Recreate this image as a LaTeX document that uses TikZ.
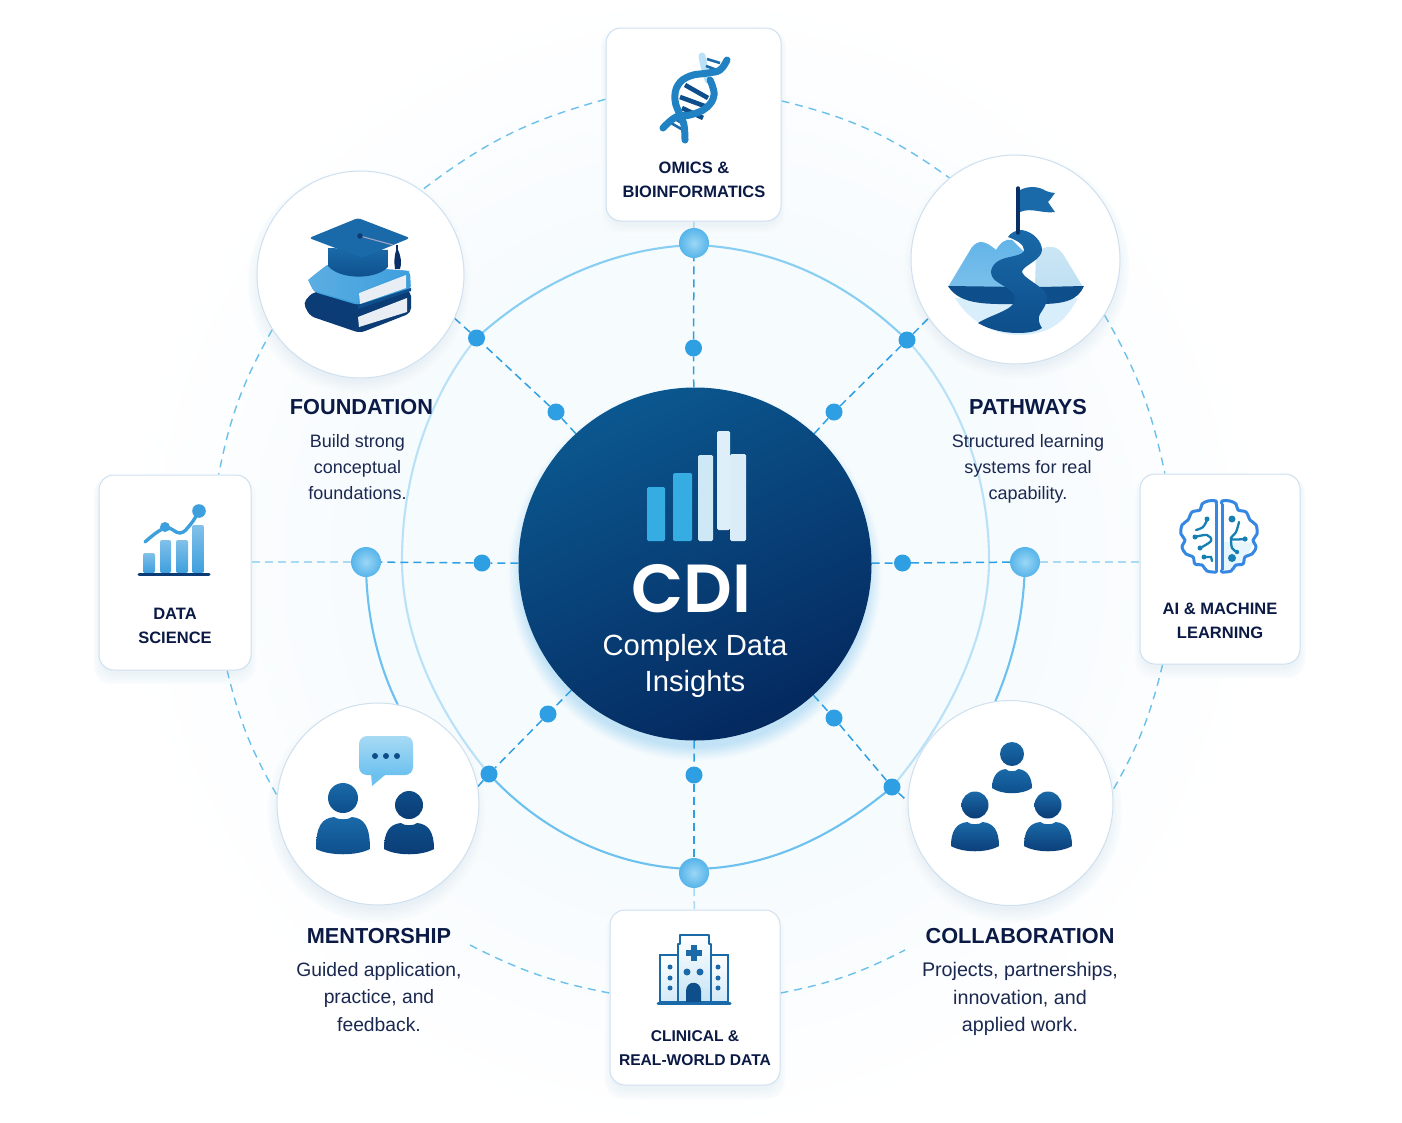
\documentclass[tikz,border=0pt]{standalone}
\usepackage{fontspec}
\setmainfont{Liberation Sans}
\newfontfamily\cdifont{Poppins SemiBold}
\usetikzlibrary{calc}
\pgfdeclarelayer{back}
\pgfdeclarelayer{conn}
\pgfsetlayers{back,conn,main}
\definecolor{ink}{HTML}{0B1A45}
\definecolor{bodyink}{HTML}{1B2850}
\definecolor{spokeC}{HTML}{2F9FE3}
\definecolor{outerC}{HTML}{6CC0EC}
\definecolor{paleC}{HTML}{A8DAF4}
\definecolor{ringC}{HTML}{6CC1EF}
\definecolor{ringT}{HTML}{88CEF3}
\definecolor{ringL}{HTML}{B9E1F7}
\definecolor{edgeC}{HTML}{CFE0EF}
\definecolor{dotC}{HTML}{2E9FE2}
\definecolor{blueA}{HTML}{1A69A8}
\definecolor{blueB}{HTML}{0D4E8B}
\definecolor{navyA}{HTML}{0E4D88}
\definecolor{navyB}{HTML}{0B3C76}
\definecolor{navy}{HTML}{0A2F66}
\definecolor{skyA}{HTML}{62B4E8}
\definecolor{skyB}{HTML}{3E9FDD}
\definecolor{skyL}{HTML}{BFE0F3}
\definecolor{tint}{HTML}{DCEFFB}
\definecolor{hubA}{HTML}{0B578F}
\definecolor{hubB}{HTML}{04295F}
\definecolor{shadeC}{HTML}{9DB8D0}
\definecolor{glowC}{HTML}{5FB4E8}
\definecolor{pageC}{HTML}{E8EEF4}
\definecolor{ballA}{HTML}{9BD7F5}
\definecolor{ballB}{HTML}{56B4EA}
\definecolor{dnaC}{HTML}{2082C2}
\definecolor{bgC}{HTML}{FAFDFE}
\tikzset{
  x=1pt,y=-1pt,
  card/.style={draw=edgeC,line width=1,fill=white,rectangle,rounded corners=15pt,inner sep=0pt},
  disc/.style={draw=edgeC,line width=1,fill=white,circle,inner sep=0pt},
  hub/.style={circle,inner sep=0pt,minimum size=353pt,top color=hubA,bottom color=hubB,shading angle=25},
  bigdot/.style={circle,inner sep=0pt,minimum size=30pt,inner color=ballA,outer color=ballB},
  smalldot/.style={circle,inner sep=0pt,minimum size=17pt,fill=dotC},
  spoke/.style={draw=spokeC,line width=1.5,dash pattern=on 8pt off 5pt},
  palespoke/.style={draw=paleC,line width=1.5,dash pattern=on 8pt off 5pt},
  orbit/.style={draw=outerC,line width=1.4,dash pattern=on 8pt off 6pt},
  ringS/.style={draw=ringC,line width=2.1},
  ringP/.style={draw=ringL,line width=2.1},
  head/.style={text=ink,font=\bfseries\fontsize{21.7}{26}\selectfont,inner sep=0pt},
  desc/.style={text=bodyink,align=center,inner sep=0pt},
  cardlabel/.style={text=ink,align=center,inner sep=0pt,font=\bfseries\fontsize{16.5}{24}\selectfont},
}
\newcommand{\softshadow}[6]{% x y r offset colour strength
  \begin{pgfonlayer}{back}
  \foreach \k in {12,...,1}{\pgfmathsetmacro{\pp}{(13-\k)*#6}\fill[#5!\pp!bgC] (#1,#2+#4) circle[radius=#3+\k*1.3-6];}
  \end{pgfonlayer}}
\newcommand{\boxshadow}[4]{% x0 y0 x1 y1
  \begin{pgfonlayer}{back}
  \foreach \k in {10,...,1}{\pgfmathsetmacro{\pp}{(11-\k)*1.5}\fill[shadeC!\pp!bgC,rounded corners=18pt] (#1-\k*.7+2,#2+8-\k*.7) rectangle (#3+\k*.7-2,#4+3+\k*1.1);}
  \end{pgfonlayer}}
\newcommand{\pers}[8]{% cx headcy r top halfw bottom colours
  \path[top color=#7,bottom color=#8] (#1,#2) circle[radius=#3];
  \path[top color=#7,bottom color=#8] (#1-#5,#6-6)
    .. controls (#1-#5,#4+9) and (#1-#5*.78,#4+1) .. (#1-#5*.32,#4)
    .. controls (#1-#5*.2,#4+3) and (#1+#5*.2,#4+3) .. (#1+#5*.32,#4)
    .. controls (#1+#5*.78,#4+1) and (#1+#5,#4+9) .. (#1+#5,#6-6)
    .. controls (#1+#5*.5,#6+1) and (#1-#5*.5,#6+1) .. cycle;}
\begin{document}
\begin{tikzpicture}
\useasboundingbox (0,0) rectangle (1402,1122);
\begin{pgfonlayer}{back}
\fill[white] (0,0) rectangle (1402,1122);
\foreach \k in {16,...,1}{\pgfmathsetmacro{\pp}{(17-\k)*1.7}\fill[tint!\pp!white] (695,563) circle[radius=300+\k*16];}
\end{pgfonlayer}

% ---- main nodes
\node[hub] (cdi) at (695,564) {};
\node[card,minimum width=175pt,minimum height=193pt] (omics) at (693.5,124.5) {};
\node[card,minimum width=152pt,minimum height=195pt] (data) at (175,572.5) {};
\node[card,minimum width=160pt,minimum height=190pt] (ai) at (1220,569) {};
\node[card,minimum width=170pt,minimum height=175pt] (clinical) at (695,997.5) {};
\node[disc,minimum size=207pt] (foundation) at (360.5,274.5) {};
\node[disc,minimum size=209pt] (pathways) at (1015.5,259.5) {};
\node[disc,minimum size=202pt] (mentorship) at (378,804) {};
\node[disc,minimum size=205pt] (collaboration) at (1010.5,803) {};

\softshadow{695}{564}{178}{10}{glowC}{3}
\softshadow{360.5}{274.5}{103}{8}{shadeC}{1.6}
\softshadow{1015.5}{259.5}{104}{8}{shadeC}{1.6}
\softshadow{378}{804}{101}{8}{shadeC}{1.6}
\softshadow{1010.5}{803}{102}{8}{shadeC}{1.6}
\boxshadow{606}{28}{781}{221}
\boxshadow{99}{475}{251}{670}
\boxshadow{1140}{474}{1300}{664}
\boxshadow{610}{910}{780}{1085}

% ---- ring dots
\node[bigdot] (bN) at (694,243) {};
\node[bigdot] (bS) at (694,873) {};
\node[bigdot] (bW) at (366,562) {};
\node[bigdot] (bE) at (1025,562) {};
\node[smalldot] (dN) at (693.5,348) {};
\node[smalldot] (dS) at (694,775) {};
\node[smalldot] (dW) at (482,563) {};
\node[smalldot] (dE) at (902.5,563) {};
\node[smalldot] (dNWa) at (556,412) {};
\node[smalldot] (dNWb) at (476.5,338) {};
\node[smalldot] (dNEa) at (834,412) {};
\node[smalldot] (dNEb) at (907,340) {};
\node[smalldot] (dSWa) at (548,714) {};
\node[smalldot] (dSWb) at (489,774) {};
\node[smalldot] (dSEa) at (834,718) {};
\node[smalldot] (dSEb) at (892,787) {};
\coordinate (mentEnd) at (470,945);
\coordinate (collabEnd) at (905,950);

\begin{pgfonlayer}{conn}
% outer dashed orbit
\draw[orbit] (omics.164) to[bend right=11] (foundation.54);
\draw[orbit] (omics.15.5) to[bend left=11] (pathways.129);
\draw[orbit] (foundation.212.5) to[bend right=9] (data.66.6);
\draw[orbit] (pathways.-32.7) to[bend left=9] (ai.120);
\draw[orbit] (data.-62) to[bend right=8] (mentorship.175);
\draw[orbit] (ai.239) to[bend left=8] (collaboration.7);
\draw[orbit] (mentEnd) to[bend right=8] (clinical.177);
\draw[orbit] (clinical.3) to[bend right=8] (collabEnd);
% rings
\draw[ringP] (dNWb.center) .. controls (430,395) and (402,475) .. (402,560) .. controls (402,640) and (440,715) .. (dSWb.center);
\draw[ringP] (dNEb.center) .. controls (958,395) and (989,475) .. (989,560) .. controls (989,640) and (945,725) .. (dSEb.center);
\draw[ringS,draw=ringT] (dNWb.center) .. controls (535,285) and (610,248) .. (694,245);
\draw[ringS,draw=ringT] (694,245) .. controls (780,248) and (850,285) .. (dNEb.center);
\draw[ringS] (dSWb.center) .. controls (545,835) and (620,868) .. (694,869);
\draw[ringS] (694,869) .. controls (770,868) and (835,835) .. (dSEb.center);
\draw[ringS] (bW.center) .. controls (366,615) and (378,665) .. (398,705);
\draw[ringS] (bE.center) .. controls (1024,615) and (1013,660) .. (995,702);
% spokes
\draw[spoke] (cdi) -- (dN);
\draw[spoke] (dN) -- (bN);
\draw[draw=paleC,line width=1.5] (bN) -- (omics);
\draw[spoke] (cdi) -- (dS);
\draw[spoke] (dS) -- (bS);
\draw[palespoke] (bS) -- (clinical);
\draw[spoke] (cdi) -- (dW);
\draw[spoke] (dW) -- (bW);
\draw[palespoke] (bW) -- (data.east |- bW);
\draw[spoke] (cdi) -- (dE);
\draw[spoke] (dE) -- (bE);
\draw[palespoke] (bE) -- (ai.west |- bE);
\draw[spoke] (cdi) -- (dNWa);
\draw[spoke] (dNWa) -- (dNWb);
\draw[spoke] (dNWb) -- (foundation.-25);
\draw[spoke] (cdi) -- (dNEa);
\draw[spoke] (dNEa) -- (dNEb);
\draw[spoke] (dNEb) -- (pathways.214.4);
\draw[spoke] (cdi) -- (dSWa);
\draw[spoke] (dSWa) -- (dSWb);
\draw[spoke] (dSWb) -- (mentorship.10.8);
\draw[spoke] (cdi) -- (dSEa);
\draw[spoke] (dSEa) -- (dSEb);
\draw[spoke] (dSEb) -- (collaboration.179);
\end{pgfonlayer}

% ---- texts
\node[text=white,inner sep=0pt,font=\cdifont\fontsize{68}{68}\selectfont] (cdiT) at (691,589) {CDI};
\node[text=white,align=center,inner sep=0pt,font=\fontsize{29.2}{36}\selectfont] (cdiS) at (695,666) {Complex Data\\Insights};
\node[head] (foundT) at (361.5,407) {FOUNDATION};
\node[desc,font=\fontsize{18}{26}\selectfont] (foundD) at (357.5,467) {Build strong\\conceptual\\foundations.};
\node[head] (pathT) at (1028,407) {PATHWAYS};
\node[desc,font=\fontsize{18}{26}\selectfont] (pathD) at (1028,469) {Structured learning\\systems for real\\capability.};
\node[head] (mentT) at (379,936) {MENTORSHIP};
\node[desc,font=\fontsize{19.3}{27.7}\selectfont] (mentD) at (379,997) {Guided application,\\practice, and\\feedback.};
\node[head] (collabT) at (1020,936) {COLLABORATION};
\node[desc,font=\fontsize{19.7}{27.7}\selectfont] (collabD) at (1020,999) {Projects, partnerships,\\innovation, and\\applied work.};
\node[cardlabel] (omicsT) at (694,180) {OMICS \&\\BIOINFORMATICS};
\node[cardlabel] (dataT) at (175,626) {DATA\\SCIENCE};
\node[cardlabel] (aiT) at (1220,621) {AI \& MACHINE\\LEARNING};
\node[cardlabel,font=\bfseries\fontsize{15.6}{24}\selectfont] (clinT) at (695,1048) {CLINICAL \&\\REAL-WORLD DATA};

% ---- hub bars
\fill[rounded corners=1.5pt,fill=skyB!85!cyan] (647,487) rectangle (665,541);
\fill[rounded corners=1.5pt,fill=skyB!85!cyan] (673,473) rectangle (692,541);
\fill[rounded corners=1.5pt,fill=skyL!75!white] (698,455) rectangle (713,541);
\fill[rounded corners=1.5pt,fill=skyL!60!white] (730,454) rectangle (746,541);
\fill[rounded corners=1.5pt,fill=skyL!50!white] (717,431) rectangle (730,530);

% ---- DNA icon
\draw[ringL,line width=7,line cap=round] plot[smooth,tension=.7] coordinates {(708,80) (704,66) (702,56)};
\foreach \a/\b/\c/\d in {707/59/720/63,706/66/717/70,671/123/683/130,675/119/685/125}
  \draw[blueA,line width=2.6] (\a,\b) -- (\c,\d);
\foreach \a/\b/\c/\d in {685/85/708/98,680/97/710/108,682/108/703/118}
  \draw[blueB,line width=4.6] (\a,\b) -- (\c,\d);
\draw[dnaC,line width=7,line cap=round] plot[smooth,tension=.7] coordinates {(663,128) (676,117) (690,115) (706,108) (714,95) (710,80)};
\draw[dnaC,line width=7,line cap=round] plot[smooth,tension=.7] coordinates {(685,140) (684,125) (680,115) (675,100) (678,85) (690,76) (708,73) (720,70) (727,60)};

% ---- books and cap
\fill[navyB,rounded corners=5pt] (303,303) -- (313,292) -- (411,291) -- (411,313) -- (360,333) -- (310,316) -- cycle;
\fill[pageC] (358,317) -- (407,298) -- (407,312) -- (359,327) -- cycle;
\fill[skyB,rounded corners=4pt] (308,280) -- (327,265) -- (410,271) -- (411,290) -- (358,305) -- (314,292) -- cycle;
\fill[blueB] (358,305) -- (411,288) -- (411,291) -- (358,309) -- cycle;
\fill[pageC] (359,293) -- (406,275) -- (406,288) -- (360,304) -- cycle;
\path[left color=skyB!85!white,right color=skyB] (308,280) -- (327,265) -- (410,271) -- (359,293) -- (358,303) -- (314,291) -- cycle;
\path[top color=blueA,bottom color=blueB] (328,248) -- (328,266) .. controls (340,280) and (376,280) .. (388,267) -- (388,250) -- cycle;
\fill[blueA,rounded corners=3pt] (358,218) -- (410,238) -- (362,258) -- (309,238) -- cycle;
\draw[gray!80!blue!60,line width=1.1] (360,236) -- (393,245);
\fill[navyB] (360,236) circle[radius=2.8];
\draw[navy,line width=1.4] (397,245) -- (397,252);
\fill[navy] (397,248) .. controls (401,255) and (402,264) .. (400,269) -- (395,269) .. controls (394,262) and (394,255) .. (397,248);

% ---- pathways icon
\fill[ringL!55!white] (955,298) .. controls (975,330) and (1005,335) .. (1018,335) .. controls (1050,335) and (1065,322) .. (1078,298) -- cycle;
\path[top color=skyL!80!white,bottom color=skyL] (1035,287) -- (1036,253) .. controls (1045,245) and (1056,244) .. (1063,254) -- (1083,287) -- cycle;
\path[top color=skyA,bottom color=skyA!85!white] (948,287) -- (972,247) .. controls (978,240) and (985,240) .. (996,250) .. controls (1000,243) and (1006,238) .. (1012,240) -- (1027,255) -- (1015,287) -- cycle;
\fill[blueB] (948,286) -- (1020,287) -- (1020,304) .. controls (990,304) and (960,306) .. (948,286) -- cycle;
\fill[blueB] (1040,287) -- (1084,286) .. controls (1078,300) and (1065,304) .. (1040,304) -- cycle;
\path[top color=blueA,bottom color=blueB] (1008,237) .. controls (1016,240) and (1024,244) .. (1024,250) .. controls (1024,256) and (1008,256) .. (1000,260) .. controls (990,265) and (988,275) .. (996,281) .. controls (1006,288) and (1016,292) .. (1015,300) .. controls (1014,310) and (990,315) .. (978,323) .. controls (990,330) and (1005,333) .. (1018,333) .. controls (1026,333) and (1036,332) .. (1042,328) .. controls (1038,322) and (1038,318) .. (1040,314) .. controls (1046,305) and (1050,298) .. (1044,291) .. controls (1038,284) and (1024,278) .. (1022,272) .. controls (1022,266) and (1042,260) .. (1042,250) .. controls (1042,242) and (1034,232) .. (1022,230) .. controls (1016,230) and (1010,233) .. cycle;
\draw[navy,line width=3.4,line cap=round] (1018,188) -- (1018,233);
\path[fill=blueA] (1020,190) .. controls (1030,185) and (1040,187) .. (1046,191) .. controls (1049,193) and (1052,192) .. (1055,193) .. controls (1052,197) and (1050,200) .. (1048,202) .. controls (1050,205) and (1052,208) .. (1055,212) .. controls (1042,214) and (1032,207) .. (1020,212) -- cycle;

% ---- data science icon
\foreach \a/\b/\c in {143/155/553,160/171/540,176/188/540,192/204/525}
  \path[rounded corners=2pt,top color=skyB!65!white,bottom color=skyB] (\a,\c) rectangle (\b,573);
\draw[navyB,line width=3,line cap=round] (139,574) -- (209,574);
\draw[skyB,line width=3.4,line cap=round] plot[smooth,tension=.7] coordinates {(145,542) (165,528) (180,533) (190,525) (198,513)};
\fill[skyB] (199,511) circle[radius=6.8];
\fill[skyB] (165,527) circle[radius=5];

% ---- brain icon
\begin{scope}[shift={(1219,537)}]
\fill[ringL!35!white] (3,5) -- (35,5) -- (24,27) -- (3,34) -- cycle;
\foreach \s in {1,-1}{
  \begin{scope}[xscale=\s]
  \draw[skyB!85!blue,line width=3,line join=round] plot[smooth,tension=.55] coordinates {(-3,-33) (-3,-36) (-11,-36) (-17,-33) (-19,-27) (-27,-25) (-31,-17) (-37,-12) (-38,-3) (-34,3) (-37,10) (-33,17) (-26,20) (-24,27) (-17,28) (-12,34) (-3,35) (-3,33)};
  \draw[skyB!85!blue,line width=3] (-3,-33) -- (-3,33);
  \end{scope}}
\draw[blueA!85!cyan,line width=2.3,line cap=round,line join=round] plot[smooth,tension=.6] coordinates {(-24,0) (-12,-2) (-8,4) (-19,11)};
\draw[blueA!85!cyan,line width=2.3,line cap=round] plot[smooth,tension=.6] coordinates {(-12,-17) (-16,-10) (-23,-7)};
\draw[blueA!85!cyan,line width=2.3,line cap=round] (-15,20) -- (-8,20) -- (-7,24);
\draw[blueA!85!cyan,line width=2.3,line cap=round,line join=round] plot[smooth,tension=.6] coordinates {(20,-15) (17,-5) (12,2) (26,2)};
\draw[blueA!85!cyan,line width=2.3,line cap=round] plot[smooth,tension=.6] coordinates {(12,2) (13,11) (18,15)};
\foreach \a/\b/\r in {-24/0/2.5,-19/11/2.5,-12/-18/2.5,-15/20/2.5,13/-18/3.5,26/2/2.6,18/15/2.2,13/21/4}
  \fill[blueA!85!cyan] (\a,\b) circle[radius=\r];
\end{scope}

% ---- mentorship icon
\path[top color=paleC,bottom color=ringC,rounded corners=8pt] (359,736) rectangle (413,775);
\path[fill=ringC] (371,773) -- (372,786) -- (385,775) -- cycle;
\foreach \a in {375,386,397} \fill[navyA] (\a,756) circle[radius=3];
\pers{343}{798}{15}{817}{27}{855}{blueA}{blueB}
\pers{409}{805}{14}{823}{25}{855}{navyA}{navyB}

% ---- collaboration icon
\pers{1012}{754}{12}{769}{20}{794}{blueA}{blueB}
\pers{975}{805}{13.5}{822}{24}{852}{blueA}{navyB}
\pers{1048}{805}{13.5}{822}{24}{852}{blueA}{navyB}

% ---- hospital icon
\path[top color=white,bottom color=skyL!70!white,draw=blueA,line width=2.4] (660,955) rectangle (678,1002);
\path[top color=white,bottom color=skyL!70!white,draw=blueA,line width=2.4] (711,955) rectangle (728,1002);
\path[top color=white,bottom color=skyL!90!white,draw=blueA,line width=2.4,line join=round] (678,1002) -- (678,944) -- (680,944) -- (680,935) -- (709,935) -- (709,944) -- (711,944) -- (711,1002) -- cycle;
\draw[blueA,line width=3,line cap=round] (658,1003) -- (730,1003);
\fill[blueA] (691,945) rectangle (697,961);
\fill[blueA] (686,950) rectangle (702,956);
\foreach \a in {687,700} \fill[blueA] (\a,972) circle[radius=3.5];
\foreach \a in {670,718} \foreach \b in {967,978,988} \fill[blueA] (\a,\b) circle[radius=2.5];
\fill[blueB] (686,1002) -- (686,991) .. controls (686,980) and (701,980) .. (701,991) -- (701,1002) -- cycle;
\end{tikzpicture}
\end{document}
